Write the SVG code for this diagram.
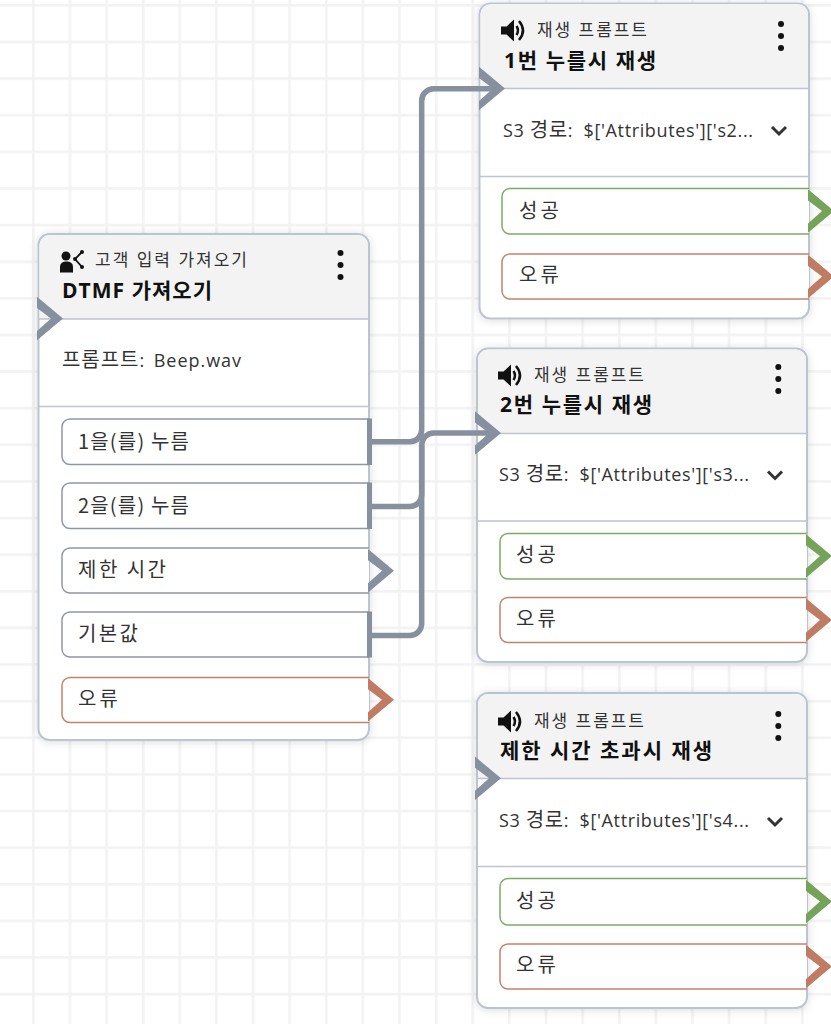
<svg xmlns="http://www.w3.org/2000/svg" xmlns:xlink="http://www.w3.org/1999/xlink" width="831" height="1024" viewBox="0 0 831 1024">
<style>
text{font-family:"Open Sans","Noto Sans CJK KR",sans-serif;fill:#333}
.sm{font-size:17px}
.tt{font-size:21px;font-weight:700;fill:#111}
.bd{font-size:18px}
.k{font-size:20px;font-family:"Noto Sans CJK KR",sans-serif}
.card{fill:#fff;stroke:#bcc3d1;stroke-width:2}
.hd{fill:#f3f3f3}
.dv{stroke:#bcc3d1;stroke-width:1.5;fill:none}
.pn,.pg,.pr{fill:#fff;stroke-width:1.5}
.pn{stroke:#8e97aa}.pg{stroke:#7dab65}.pr{stroke:#c4826d}
.cn{fill:#87909f}.cg{fill:#76a35a}.cr{fill:#c07b63}
.bar{fill:#87909f}
.wire{fill:none;stroke:#87909f;stroke-width:5.500}
.dot{fill:#111}
.chev{fill:none;stroke:#333;stroke-width:3}
</style>
<defs>
<pattern id="grid" width="36.62" height="36.62" patternUnits="userSpaceOnUse" patternTransform="translate(32 4)">
<path d="M0 0H2.600V36.62H0ZM2.600 0H36.62V2.600H2.600Z" fill="#f3f3f3"/>
</pattern>
<filter id="sh" x="-10%" y="-10%" width="120%" height="120%"><feDropShadow dx="0" dy="1" stdDeviation="4" flood-color="#000" flood-opacity="0.14"/></filter>
<g id="spk"><path d="M0 7.500H5.500L13 0.500V22.500L5.500 15.500H0Z" fill="#111"/><path d="M15.500 7Q18.500 11.500 15.500 16M18 2Q26 11.500 18 21" fill="none" stroke="#111" stroke-width="2.500"/></g>
<g id="kebab"><circle class="dot" cy="0" r="3"/><circle class="dot" cy="12" r="3"/><circle class="dot" cy="24" r="3"/></g>
<polygon id="chv" points="0,-21.700 26,0 0,21.700 0,12.500 14,0 0,-10.500"/>
</defs>
<rect width="831" height="1024" fill="#fff"/>
<rect width="831" height="1024" fill="url(#grid)"/>

<g id="node-dtmf">
<rect class="card" x="38.500" y="234" width="330.500" height="506" rx="11" filter="url(#sh)"/>
<path class="hd" d="M39.500 319V245a10 10 0 0 1 10-10H358a10 10 0 0 1 10 10V319Z"/>
<path class="dv" d="M39 319H369M39 406.500H369"/>
<g><circle cx="66" cy="256" r="4.500" fill="#111"/><path d="M60 272.500V267Q60 261.500 66.500 261.500Q73 261.500 73 267V272.500Z" fill="#111"/><path d="M82 252L75 259L82 267" fill="none" stroke="#111" stroke-width="1.800"/><circle cx="82" cy="252" r="2" fill="#111"/><circle cx="75" cy="259" r="2" fill="#111"/><circle cx="82" cy="267" r="2" fill="#111"/></g>
<text class="sm" x="95" y="266" textLength="152">고객 입력 가져오기</text>
<text class="tt" x="62" y="298" textLength="150">DTMF 가져오기</text>
<use xlink:href="#kebab" href="#kebab" x="340.500" y="253"/>
<text class="bd" x="62" y="367" textLength="179"><tspan class="k">프롬프트</tspan>: <tspan dx="3">Beep.wav</tspan></text>
<path class="pn" d="M369 419H70a8 8 0 0 0-8 8V456.500a8 8 0 0 0 8 8H369"/>
<path class="pn" d="M369 483H70a8 8 0 0 0-8 8V520.500a8 8 0 0 0 8 8H369"/>
<path class="pn" d="M369 548H70a8 8 0 0 0-8 8V585a8 8 0 0 0 8 8H369"/>
<path class="pn" d="M369 612H70a8 8 0 0 0-8 8V649a8 8 0 0 0 8 8H369"/>
<path class="pr" d="M369 677.500H70a8 8 0 0 0-8 8V714.500a8 8 0 0 0 8 8H369"/>
<rect class="bar" x="367" y="418.500" width="5" height="46.500"/>
<rect class="bar" x="367" y="482.500" width="5" height="46.500"/>
<rect class="bar" x="367" y="611.500" width="5" height="46"/>
<use class="cn" xlink:href="#chv" href="#chv" x="368" y="570.700"/>
<use class="cr" xlink:href="#chv" href="#chv" x="368" y="699.700"/>
<use class="cn" xlink:href="#chv" href="#chv" x="37" y="318.500"/>
<text class="k" x="78" y="449" textLength="111">1을(를) 누름</text>
<text class="k" x="78" y="513" textLength="111">2을(를) 누름</text>
<text class="k" x="78" y="577" textLength="88">제한 시간</text>
<text class="k" x="78" y="641" textLength="60">기본값</text>
<text class="k" x="78" y="706" textLength="40">오류</text>
</g>

<g id="node-play1">
<rect class="card" x="479.500" y="3.500" width="329.500" height="315" rx="11" filter="url(#sh)"/>
<path class="hd" d="M480.500 88V14a10 10 0 0 1 10-10H798a10 10 0 0 1 10 10V88Z"/>
<path class="dv" d="M480 88.500H809M480 176.500H809"/>
<use xlink:href="#spk" href="#spk" x="501" y="19"/>
<text class="sm" x="537" y="36" textLength="110">재생 프롬프트</text>
<text class="tt" x="504" y="68" textLength="152">1번 누를시 재생</text>
<use xlink:href="#kebab" href="#kebab" x="781" y="24"/>
<text class="bd" x="503" y="137" textLength="250">S3 <tspan class="k">경로</tspan>: <tspan dx="5">$['Attributes']['s2...</tspan></text>
<path class="chev" d="M772 127L779 134L786 127"/>
<path class="pg" d="M809 188.500H510a8 8 0 0 0-8 8V226a8 8 0 0 0 8 8H809"/>
<path class="pr" d="M809 254H510a8 8 0 0 0-8 8V291a8 8 0 0 0 8 8H809"/>
<use class="cg" xlink:href="#chv" href="#chv" x="808" y="211"/>
<use class="cr" xlink:href="#chv" href="#chv" x="808" y="276.500"/>
<text class="k" x="519" y="218" textLength="40">성공</text>
<text class="k" x="519" y="282" textLength="40">오류</text>
</g>

<g id="node-play2">
<rect class="card" x="477" y="348.500" width="330" height="313.500" rx="11" filter="url(#sh)"/>
<path class="hd" d="M478 433V359.500a10 10 0 0 1 10-10H796a10 10 0 0 1 10 10V433Z"/>
<path class="dv" d="M477 433.500H807M477 521H807"/>
<use xlink:href="#spk" href="#spk" x="498" y="364"/>
<text class="sm" x="534" y="381" textLength="110">재생 프롬프트</text>
<text class="tt" x="500" y="412" textLength="152">2번 누를시 재생</text>
<use xlink:href="#kebab" href="#kebab" x="778.300" y="367"/>
<text class="bd" x="499" y="481" textLength="250">S3 <tspan class="k">경로</tspan>: <tspan dx="5">$['Attributes']['s3...</tspan></text>
<path class="chev" d="M768 471.500L775 478.500L782 471.500"/>
<path class="pg" d="M807 533.500H508a8 8 0 0 0-8 8V571a8 8 0 0 0 8 8H807"/>
<path class="pr" d="M807 597.500H508a8 8 0 0 0-8 8V634.500a8 8 0 0 0 8 8H807"/>
<use class="cg" xlink:href="#chv" href="#chv" x="806" y="556"/>
<use class="cr" xlink:href="#chv" href="#chv" x="806" y="620"/>
<text class="k" x="516" y="562" textLength="40">성공</text>
<text class="k" x="516" y="626" textLength="40">오류</text>
</g>

<g id="node-play3">
<rect class="card" x="477" y="693" width="330" height="315" rx="11" filter="url(#sh)"/>
<path class="hd" d="M478 778V704a10 10 0 0 1 10-10H796a10 10 0 0 1 10 10V778Z"/>
<path class="dv" d="M477 778.500H807M477 866.500H807"/>
<use xlink:href="#spk" href="#spk" x="498" y="710"/>
<text class="sm" x="534" y="727" textLength="110">재생 프롬프트</text>
<text class="tt" x="500" y="758" textLength="212">제한 시간 초과시 재생</text>
<use xlink:href="#kebab" href="#kebab" x="778.300" y="714"/>
<text class="bd" x="499" y="827" textLength="250">S3 <tspan class="k">경로</tspan>: <tspan dx="5">$['Attributes']['s4...</tspan></text>
<path class="chev" d="M768 818L775 825L782 818"/>
<path class="pg" d="M807 878.500H508a8 8 0 0 0-8 8V917a8 8 0 0 0 8 8H807"/>
<path class="pr" d="M807 944H508a8 8 0 0 0-8 8V981a8 8 0 0 0 8 8H807"/>
<use class="cg" xlink:href="#chv" href="#chv" x="806" y="901.500"/>
<use class="cr" xlink:href="#chv" href="#chv" x="806" y="966.500"/>
<use class="cn" xlink:href="#chv" href="#chv" x="475" y="778.300"/>
<text class="k" x="516" y="908" textLength="40">성공</text>
<text class="k" x="516" y="972" textLength="40">오류</text>
</g>

<g id="connectors">
<path class="wire" d="M372 441.700H409.700a12 12 0 0 0 12-12V100.800a12 12 0 0 1 12-12H494"/>
<path class="wire" d="M372 506.500H409.700a12 12 0 0 0 12-12V445"/>
<path class="wire" d="M372 635.500H409.700a12 12 0 0 0 12-12V445a12 12 0 0 1 12-12H490"/>
<use class="cn" xlink:href="#chv" href="#chv" x="479" y="88.500"/>
<use class="cn" xlink:href="#chv" href="#chv" x="475" y="433"/>
</g>
</svg>
